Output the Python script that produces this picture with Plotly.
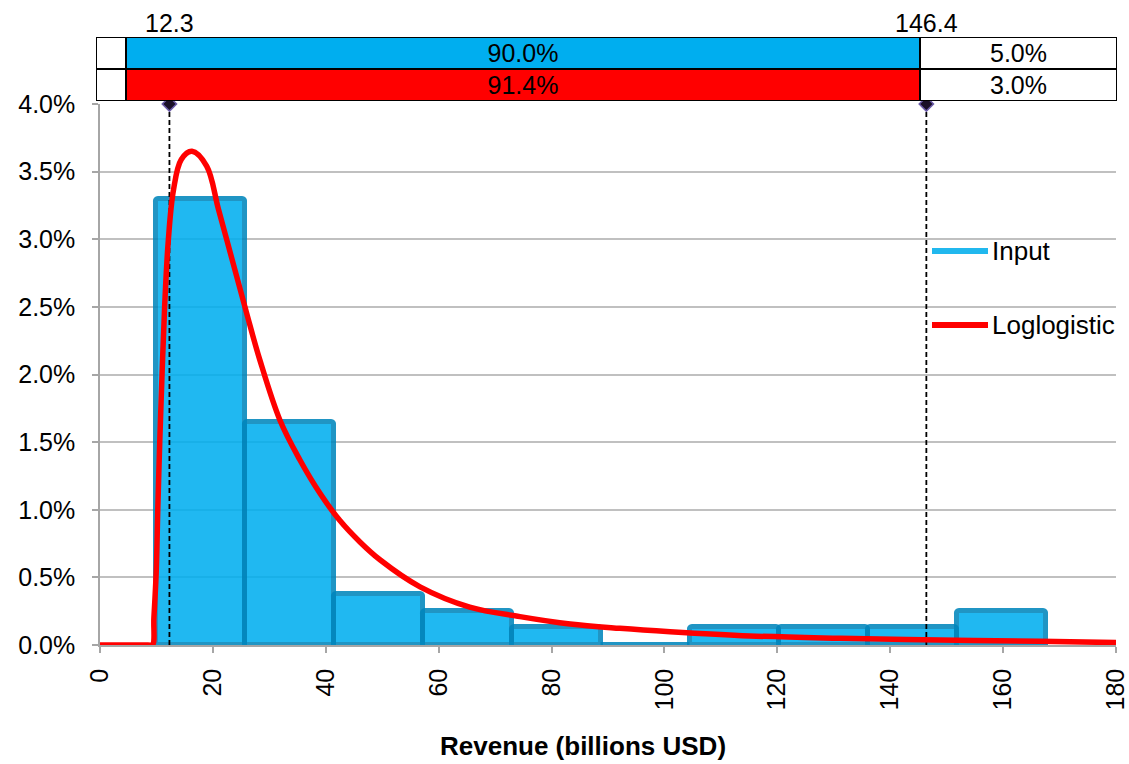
import plotly.graph_objects as go

# Histogram of the input data (bin edges in billions USD, density in %)
bin_edges = [9.9, 25.67, 41.44, 57.21, 72.98, 88.75, 104.52, 120.29, 136.06, 151.83, 167.6]
bin_density = [3.30, 1.65, 0.38, 0.25, 0.13, 0.0, 0.13, 0.13, 0.13, 0.25]

# Fitted loglogistic density (billions USD, %)
fit_x = [0, 5.0, 8.5, 9.3, 9.55, 9.95, 10.25, 10.6, 11.0, 11.45, 12.1, 13.0, 14.4, 16.3, 18.9,
         21.0, 23.6, 26.0, 28.3, 31.9, 35.4, 39.0, 42.5, 46.1, 49.6, 56.7, 65.5, 74.4, 83.3,
         92.1, 101.0, 115.1, 131.1, 148.8, 166.5, 180]
fit_y = [0, 0, 0, 0, 0.2, 0.53, 1.02, 1.52, 2.01, 2.50, 2.99, 3.36, 3.59, 3.65, 3.54,
         3.22, 2.82, 2.45, 2.11, 1.66, 1.37, 1.12, 0.92, 0.76, 0.63, 0.43, 0.28, 0.21, 0.155,
         0.123, 0.098, 0.067, 0.050, 0.037, 0.027, 0.018]

# Delimiters and the probabilities shown in the band above the chart
delimiters = [12.3, 146.4]
delimiter_labels = ["12.3", "146.4"]
band_rows = ["Input", "Loglogistic"]
band_left_pct = [5.0, 5.6]
band_mid_pct = [90.0, 91.4]
band_right_pct = [5.0, 3.0]
band_colors = ["#00AEEF", "#FF0000"]

x_title = "Revenue (billions USD)"

FONT = "Liberation Sans, Arial, sans-serif"
W, H = 1129, 764
ML, MR, MT, MB = 96, 12, 37, 119
plot_w = W - ML - MR
plot_h = H - MT - MB

# band cell boundaries on the band axis (same units as the value axis)
band_lo, band_split1, band_split2, band_hi = -0.71, 4.61, 145.27, 180.18

fig = go.Figure()

# dashed delimiter lines (behind the bars)
for d in delimiters:
    fig.add_trace(go.Scatter(x=[d, d], y=[0, 4.0], mode="lines",
                             line=dict(color="black", width=1.8, dash="5px,3px"),
                             showlegend=False, hoverinfo="skip"))

centers = [(a + b) / 2 for a, b in zip(bin_edges[:-1], bin_edges[1:])]
widths = [b - a for a, b in zip(bin_edges[:-1], bin_edges[1:])]
fig.add_trace(go.Bar(x=centers, y=bin_density, width=widths, name="Input",
                     marker=dict(color="#00AEEF", opacity=0.87, cornerradius=3,
                                 line=dict(color="#0086BC", width=5)),
                     showlegend=False))

fig.add_trace(go.Scatter(x=fit_x, y=fit_y, mode="lines", name="Loglogistic",
                         line=dict(color="#FF0000", width=5.5, shape="spline", smoothing=1.0),
                         showlegend=False))

# diamond markers at the delimiters
fig.add_trace(go.Scatter(x=delimiters, y=[4.0, 4.0], mode="markers", cliponaxis=False,
                         marker=dict(symbol="diamond", size=11, color="#1A1028",
                                     line=dict(color="#6A5AA8", width=1.5)),
                         showlegend=False, hoverinfo="skip"))

# probability band above the chart
left_w = [band_split1 - band_lo] * 2
mid_w = [band_split2 - band_split1] * 2
right_w = [band_hi - band_split2] * 2
cell_line = dict(color="black", width=2)
band_font = dict(family=FONT, size=25, color="black")
fig.add_trace(go.Bar(y=band_rows, x=left_w, base=[band_lo] * 2, orientation="h",
                     xaxis="x2", yaxis="y2", cliponaxis=False,
                     marker=dict(color="white", line=cell_line), showlegend=False,
                     customdata=band_left_pct, hoverinfo="skip"))
fig.add_trace(go.Bar(y=band_rows, x=mid_w, base=[band_split1] * 2, orientation="h",
                     xaxis="x2", yaxis="y2", cliponaxis=False,
                     marker=dict(color=band_colors, line=cell_line),
                     text=[f"{v:.1f}%" for v in band_mid_pct], textposition="inside",
                     insidetextanchor="middle", textangle=0, textfont=band_font,
                     constraintext="none", showlegend=False, hoverinfo="skip"))
fig.add_trace(go.Bar(y=band_rows, x=right_w, base=[band_split2] * 2, orientation="h",
                     xaxis="x2", yaxis="y2", cliponaxis=False,
                     marker=dict(color="white", line=cell_line),
                     text=[f"{v:.1f}%" for v in band_right_pct], textposition="inside",
                     insidetextanchor="middle", textangle=0, textfont=band_font,
                     constraintext="none", showlegend=False, hoverinfo="skip"))

# delimiter value labels above the band
for d, lab in zip(delimiters, delimiter_labels):
    fig.add_annotation(x=d, y=1.0, xref="x", yref="paper", text=lab, showarrow=False,
                       yanchor="bottom", yshift=-2,
                       font=dict(family=FONT, size=25, color="black"))

# legend drawn beside the curve
leg_items = [("Input", "#21B8EE", 251), ("Loglogistic", "#FF0000", 325)]
for name, col, py in leg_items:
    yp = (H - MB - py) / plot_h
    fig.add_shape(type="line", xref="paper", yref="paper",
                  x0=(932 - ML) / plot_w, x1=(988 - ML) / plot_w, y0=yp, y1=yp,
                  line=dict(color=col, width=6))
    fig.add_annotation(xref="paper", yref="paper", x=(990 - ML) / plot_w, y=yp,
                       text=name, showarrow=False, xanchor="left", yanchor="middle",
                       font=dict(family=FONT, size=26, color="black"))

# horizontal axis title
fig.add_annotation(xref="paper", yref="paper", x=(583 - ML) / plot_w,
                   y=(H - MB - 746) / plot_h, text=f"<b>{x_title}</b>", showarrow=False,
                   xanchor="center", yanchor="middle",
                   font=dict(family=FONT, size=26, color="black"))

main_top = (H - MB - 104) / plot_h
band_bottom = (H - MB - 101) / plot_h

fig.update_layout(
    width=W, height=H,
    margin=dict(l=ML, r=MR, t=MT, b=MB, pad=0),
    paper_bgcolor="white", plot_bgcolor="white",
    bargap=0, barmode="overlay",
    font=dict(family=FONT, size=25, color="black"),
    xaxis=dict(domain=[4 / plot_w, 1020 / plot_w], range=[0, 180], dtick=20, tick0=0,
               automargin=False, ticklabeloverflow="allow",
               showgrid=False, zeroline=False, showline=True, linecolor="#A6A6A6", linewidth=1.5,
               ticks="outside", ticklen=6, tickcolor="#A6A6A6", tickwidth=1.5,
               tickangle=-90, ticklabelstandoff=6,
               tickfont=dict(family=FONT, size=25, color="black")),
    yaxis=dict(domain=[0, main_top], range=[0, 4.0], dtick=0.5, tick0=0,
               automargin=False,
               tickformat=".1f", ticksuffix="%",
               showgrid=True, gridcolor="#C0C0C0", gridwidth=1.5, zeroline=False,
               showline=True, linecolor="#A6A6A6", linewidth=1.5,
               ticks="outside", ticklen=6, tickcolor="#A6A6A6", tickwidth=1.5,
               ticklabelstandoff=12,
               tickfont=dict(family=FONT, size=25, color="black")),
    xaxis2=dict(domain=[0, 1], range=[band_lo, band_hi], anchor="y2", automargin=False,
                visible=False, showgrid=False, zeroline=False),
    yaxis2=dict(domain=[band_bottom, 1], anchor="x2", type="category", automargin=False,
                categoryorder="array", categoryarray=band_rows[::-1],
                visible=False, showgrid=False, zeroline=False),
)

fig.write_html("out.html")
